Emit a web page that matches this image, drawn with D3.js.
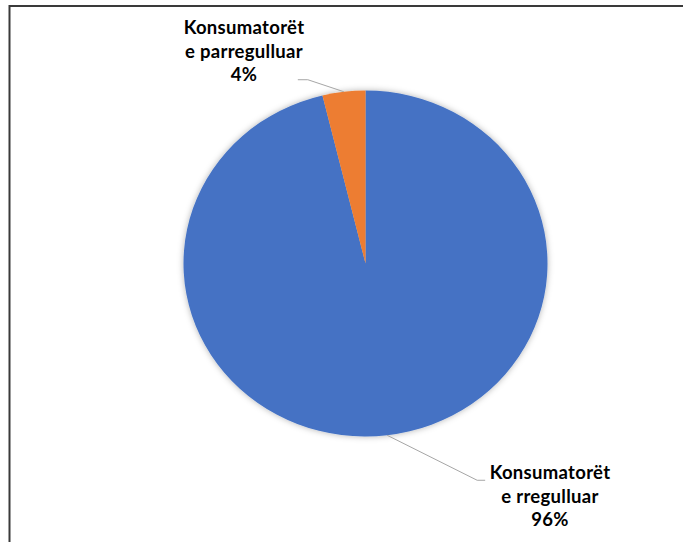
<!DOCTYPE html>
<html>
<head>
<meta charset="utf-8">
<script src="https://cdn.jsdelivr.net/npm/d3@7"></script>
<style>
  body { margin: 0; background: #fff; }
  svg { display: block; }
  .lbl { font-family: Lato, "Open Sans", sans-serif; font-weight: bold; font-size: 18.5px; letter-spacing: 0.3px; fill: #000; }
</style>
</head>
<body>
<div class="chart"></div>
<script>
const width = 683;
const height = 542;

// data
const categories = ['Konsumatorët e rregulluar', 'Konsumatorët e parregulluar'];
const values = [96.2, 3.8];
const labelLines = [['Konsumatorët', 'e rregulluar'], ['Konsumatorët', 'e parregulluar']];
const colors = ['#4472C4', '#ED7D31'];

const cx = 365.5, cy = 263.5;
const rx = 182, ry = 173;

const svg = d3.select('.chart').append('svg')
    .attr('width', width)
    .attr('height', height);

// chart frame (cropped at right/bottom)
svg.append('rect')
    .attr('x', 9.5).attr('y', 6)
    .attr('width', 800).attr('height', 800)
    .attr('fill', 'none')
    .attr('stroke', '#3a3a3a')
    .attr('stroke-width', 2);

const defs = svg.append('defs');
const shadow = defs.append('filter').attr('id', 'soft')
    .attr('x', '-10%').attr('y', '-10%').attr('width', '120%').attr('height', '120%');
shadow.append('feDropShadow')
    .attr('dx', 0).attr('dy', 0)
    .attr('stdDeviation', 3)
    .attr('flood-color', '#000')
    .attr('flood-opacity', 0.3);

const total = d3.sum(values);
const pct = d3.format('.0%');

const pie = d3.pie().sort(null).value(d => d)(values);
const arc = d3.arc().innerRadius(0).outerRadius(ry);

const g = svg.append('g')
    .attr('transform', `translate(${cx},${cy})`)
    .attr('filter', 'url(#soft)');
g.append('g')
    .attr('transform', `scale(${rx / ry},1)`)
    .selectAll('path')
    .data(pie)
    .enter()
    .append('path')
    .attr('d', arc)
    .attr('fill', (d, i) => colors[i]);

// point on the (elliptic) pie edge for a given angle
function edge(a) {
    return [cx + rx * Math.sin(a), cy - ry * Math.cos(a)];
}

// label layout: elbow offset, horizontal end, text anchor position
const layout = [
    { elbow: [90, 45], end: [98, 45], text: [550, 479] },
    { elbow: [-36, -12], end: [-46, -12], text: [244, 34] }
];

pie.forEach((d, i) => {
    const mid = (d.startAngle + d.endAngle) / 2;
    const p0 = edge(mid);
    const L = layout[i];
    const p1 = [p0[0] + L.elbow[0], p0[1] + L.elbow[1]];
    const p2 = [p0[0] + L.end[0], p0[1] + L.end[1]];
    svg.append('polyline')
        .attr('points', [p0, p1, p2].map(p => p.join(',')).join(' '))
        .attr('fill', 'none')
        .attr('stroke', '#a6a6a6')
        .attr('stroke-width', 1);

    const lines = labelLines[i].concat([pct(values[i] / total)]);
    const t = svg.append('text')
        .attr('class', 'lbl')
        .attr('text-anchor', 'middle')
        .attr('x', L.text[0])
        .attr('y', L.text[1]);
    lines.forEach((s, j) => {
        t.append('tspan')
            .attr('x', L.text[0])
            .attr('dy', j === 0 ? 0 : 23.5)
            .text(s);
    });
});
</script>
</body>
</html>
